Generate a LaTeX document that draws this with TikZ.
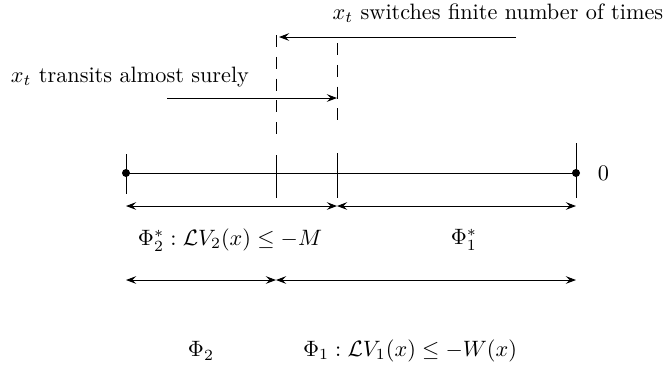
\documentclass[tikz,border=0pt]{standalone}
\usepackage{amsmath}
\usepackage{tikz}
\usetikzlibrary{positioning, arrows.meta, calc}

\begin{document}
\begin{tikzpicture}[x=0.79cm, y=0.79cm, >={Stealth[length=4.6pt, inset=1.8pt]},
    dashline/.style={dash pattern=on 5.4pt off 4.4pt}]
  \useasboundingbox (-2.52,-4.1) rectangle (10.84,3.46);
  % points on the line
  \coordinate (L) at (0,0);
  \coordinate (A) at (3,0);
  \coordinate (B) at (4.22,0);
  \coordinate (R) at (9,0);
  \draw (L) -- (R);
  \fill (L) circle (1.8pt);
  \fill (R) circle (1.8pt);
  \foreach \p/\a/\b in {L/0.38/-0.42, A/0.36/-0.5, B/0.4/-0.5, R/0.6/-0.5}
    \draw ($(\p)+(0,\a)$) -- ($(\p)+(0,\b)$);
  \node[right=0.22cm of R] (zero) {$0$};
  % dashed thresholds
  \draw[dashline] ($(A)+(0,2.76)$) -- ($(A)+(0,0.76)$);
  \draw[dashline] ($(B)+(0,2.6)$) -- ($(B)+(0,1.0)$);
  % switching arrows
  \coordinate (sw1) at (7.8,2.72);
  \coordinate (sw2) at (3.06,2.72);
  \draw[->] (sw1) -- (sw2);
  \node (swlab) at (7.44,3.2) {$x_t$ switches finite number of times};
  \coordinate (tr1) at (0.82,1.5);
  \coordinate (tr2) at (4.22,1.5);
  \draw[->] (tr1) -- (tr2);
  \node (trlab) at (0.08,1.92) {$x_t$ transits almost surely};
  % regions Phi^*
  \draw[<->] ($(L)+(0,-0.66)$) -- ($(B)+(0,-0.66)$);
  \draw[<->] ($(B)+(0,-0.66)$) -- ($(R)+(0,-0.66)$);
  \node (p2s) at (2.08,-1.34) {$\Phi_2^* : \mathcal{L}V_2(x) \leq -M$};
  \node (p1s) at (6.76,-1.34) {$\Phi_1^*$};
  % regions Phi
  \draw[<->] ($(L)+(0,-2.14)$) -- ($(A)+(0,-2.14)$);
  \draw[<->] ($(A)+(0,-2.14)$) -- ($(R)+(0,-2.14)$);
  \node (p2) at (1.5,-3.56) {$\Phi_2$};
  \node (p1) at (5.68,-3.56) {$\Phi_1 : \mathcal{L}V_1(x) \leq -W(x)$};
\end{tikzpicture}
\end{document}
